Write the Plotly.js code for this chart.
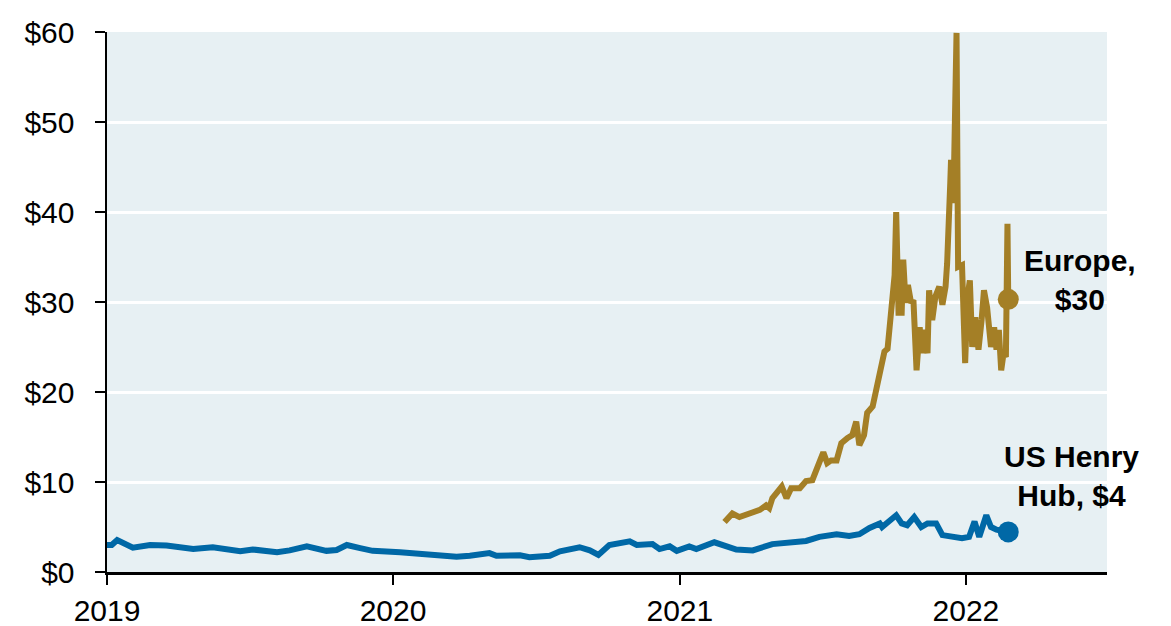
<!DOCTYPE html>
<html>
<head>
<meta charset="utf-8">
<script src="https://cdn.plot.ly/plotly-3.0.1.min.js"></script>
<style>
  html, body { margin: 0; padding: 0; background: #ffffff; }
  #chart { width: 1171px; height: 626px; }
</style>
</head>
<body>
<div id="chart"></div>
<script>
// US Henry Hub natural gas price ($/MMBtu)
const usDates = [
  '2019-01-01','2019-01-07','2019-01-14','2019-01-24','2019-02-03','2019-02-25','2019-03-18',
  '2019-04-21','2019-05-16','2019-06-20','2019-07-06','2019-08-06','2019-08-22','2019-09-13',
  '2019-10-08','2019-10-21','2019-11-03','2019-11-20','2019-12-06','2020-01-10','2020-02-08',
  '2020-03-01','2020-03-22','2020-04-08','2020-04-21','2020-05-03','2020-05-12','2020-06-11',
  '2020-06-23','2020-07-19','2020-08-01','2020-08-26','2020-09-08','2020-09-19','2020-10-03',
  '2020-10-29','2020-11-07','2020-11-27','2020-12-06','2020-12-19','2020-12-28','2021-01-13',
  '2021-01-22','2021-02-14','2021-03-14','2021-04-04','2021-04-29','2021-05-21','2021-06-11',
  '2021-06-28','2021-07-20','2021-08-05','2021-08-18','2021-08-31','2021-09-13','2021-09-16',
  '2021-10-04','2021-10-11','2021-10-18','2021-10-27','2021-11-05','2021-11-13','2021-11-24',
  '2021-12-02','2021-12-15','2021-12-27','2022-01-05','2022-01-12','2022-01-18','2022-01-27',
  '2022-02-02','2022-02-09','2022-02-24'
];
const usValues = [
  3.0, 3.0, 3.55, 3.1, 2.7, 3.0, 2.95,
  2.55, 2.75, 2.3, 2.5, 2.2, 2.4, 2.85,
  2.35, 2.45, 3.0, 2.65, 2.35, 2.2, 2.0,
  1.9, 1.7, 1.8, 1.9, 2.1, 1.8, 1.85,
  1.65, 1.8, 2.3, 2.75, 2.4, 1.9, 3.0,
  3.4, 3.0, 3.1, 2.55, 2.85, 2.35, 2.85,
  2.55, 3.3, 2.5, 2.4, 3.1, 3.2, 3.45,
  3.9, 4.2, 4.0, 4.2, 4.9, 5.4, 5.0,
  6.3, 5.4, 5.2, 6.1, 5.0, 5.4, 5.4,
  4.1, 3.9, 3.75, 3.9, 5.6, 3.9, 6.3,
  5.0, 4.7, 4.45
];

// Europe (TTF) natural gas price ($/MMBtu)
const euDates = [
  '2021-02-27','2021-03-09','2021-03-18','2021-04-04','2021-04-13','2021-04-21','2021-04-25',
  '2021-04-29','2021-05-11','2021-05-17','2021-05-23','2021-06-03','2021-06-11','2021-06-19',
  '2021-06-24','2021-06-28','2021-07-03','2021-07-08','2021-07-13','2021-07-20','2021-07-26',
  '2021-08-03','2021-08-09','2021-08-14','2021-08-18','2021-08-24','2021-08-28','2021-09-04',
  '2021-09-10','2021-09-15','2021-09-19','2021-09-23','2021-09-28','2021-10-02','2021-10-04',
  '2021-10-07','2021-10-11','2021-10-13','2021-10-16','2021-10-19','2021-10-23','2021-10-26',
  '2021-10-30','2021-11-03','2021-11-06','2021-11-09','2021-11-13','2021-11-15','2021-11-19',
  '2021-11-23','2021-11-28','2021-12-02','2021-12-06','2021-12-08','2021-12-12','2021-12-13',
  '2021-12-16','2021-12-20','2021-12-22','2021-12-27','2021-12-31','2022-01-03','2022-01-06',
  '2022-01-09','2022-01-13','2022-01-17','2022-01-21','2022-01-24','2022-01-28','2022-02-02',
  '2022-02-06','2022-02-09','2022-02-12','2022-02-15','2022-02-18','2022-02-21','2022-02-23',
  '2022-02-24'
];
const euValues = [
  5.55, 6.5, 6.1, 6.7, 6.9, 7.4, 7.1,
  8.2, 9.5, 8.2, 9.3, 9.3, 10.1, 10.2,
  11.3, 11.9, 13.3, 12.1, 12.4, 12.4, 14.3,
  14.9, 15.2, 16.7, 14.1, 15.2, 17.7, 18.4,
  21.0, 23.0, 24.5, 24.8, 30.4, 33.0, 40.0,
  28.8, 28.8, 34.7, 29.9, 31.9, 29.9, 30.2,
  22.4, 27.2, 24.3, 26.9, 24.3, 31.3, 28.0,
  30.6, 31.7, 29.7, 31.7, 34.3, 43.2, 45.8,
  41.0, 59.9, 33.9, 34.1, 23.2, 30.6, 32.4,
  25.0, 28.3, 24.7, 28.0, 31.3, 29.4, 25.0,
  27.2, 24.7, 26.9, 22.4, 24.3, 23.9, 38.7,
  30.3
];

const yTickVals = [0, 10, 20, 30, 40, 50, 60];
const yTickText = ['$0', '$10', '$20', '$30', '$40', '$50', '$60'];
const xTickVals = ['2019-01-01', '2020-01-01', '2021-01-01', '2022-01-01'];
const xTickText = ['2019', '2020', '2021', '2022'];

const euLabel = 'Europe,<br>$30';
const usLabel = 'US Henry<br>Hub, $4';

const euColor = '#A47F26';
const usColor = '#0068A6';

const traces = [
  {
    x: usDates, y: usValues, type: 'scatter', mode: 'lines',
    line: { color: usColor, width: 6 }, hoverinfo: 'skip'
  },
  {
    x: euDates, y: euValues, type: 'scatter', mode: 'lines',
    line: { color: euColor, width: 6 }, hoverinfo: 'skip'
  },
  {
    x: [usDates[usDates.length - 1]], y: [usValues[usValues.length - 1]],
    type: 'scatter', mode: 'markers',
    marker: { color: usColor, size: 21 }, hoverinfo: 'skip'
  },
  {
    x: [euDates[euDates.length - 1]], y: [euValues[euValues.length - 1]],
    type: 'scatter', mode: 'markers',
    marker: { color: euColor, size: 21 }, hoverinfo: 'skip'
  }
];

const layout = {
  width: 1171, height: 626,
  margin: { l: 107, r: 64, t: 32, b: 54 },
  paper_bgcolor: '#ffffff',
  plot_bgcolor: '#E7F0F3',
  showlegend: false,
  font: { family: 'Liberation Sans, Arial, sans-serif', size: 30, color: '#000000' },
  xaxis: {
    type: 'date',
    range: ['2019-01-01', '2022-06-30'],
    tickvals: xTickVals, ticktext: xTickText,
    showgrid: false, zeroline: false,
    showline: true, linecolor: '#000000', linewidth: 2.5,
    ticks: 'outside', ticklen: 10, tickwidth: 2.5, tickcolor: '#000000',
    tickfont: { size: 30, color: '#000000' },
    ticklabelstandoff: 0
  },
  yaxis: {
    range: [0, 60],
    tickvals: yTickVals, ticktext: yTickText,
    showgrid: true, gridcolor: '#ffffff', gridwidth: 3,
    zeroline: false,
    showline: true, linecolor: '#000000', linewidth: 2.5,
    ticks: 'outside', ticklen: 10, tickwidth: 2.5, tickcolor: '#000000',
    tickfont: { size: 30, color: '#000000' },
    ticklabelstandoff: 14
  },
  annotations: [
    {
      text: '<b>' + euLabel + '</b>',
      xref: 'paper', yref: 'y', x: 0.973, y: 32.4,
      xanchor: 'center', yanchor: 'middle', align: 'center',
      showarrow: false, font: { size: 30, color: '#000000' }
    },
    {
      text: '<b>' + usLabel + '</b>',
      xref: 'paper', yref: 'y', x: 0.964, y: 10.7,
      xanchor: 'center', yanchor: 'middle', align: 'center',
      showarrow: false, font: { size: 30, color: '#000000' }
    }
  ]
};

Plotly.newPlot('chart', traces, layout, { displayModeBar: false, staticPlot: true });
</script>
</body>
</html>
